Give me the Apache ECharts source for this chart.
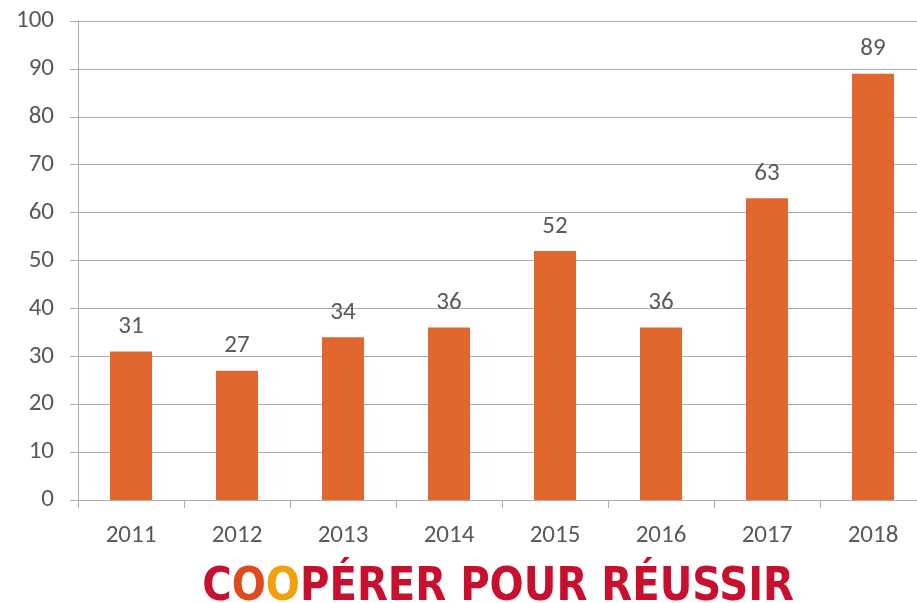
<!DOCTYPE html>
<html><head><meta charset="utf-8">
<script src="https://cdn.jsdelivr.net/npm/echarts@6/dist/echarts.min.js"></script>
<style>html,body{margin:0;padding:0;background:#fff}#c{width:917px;height:603px}</style>
</head><body><div id="c"></div>
<script>
const years = ['2011','2012','2013','2014','2015','2016','2017','2018'];
const values = [31, 27, 34, 36, 52, 36, 63, 89];
const yTicks = {min: 0, max: 100, interval: 10};
const logoParts = ['C', 'O', 'O', 'PÉRER POUR RÉUSSIR'];

const chart = echarts.init(document.getElementById('c'));
const font = 'Carlito, "Open Sans", "Liberation Sans", sans-serif';
const logoFont = '"Liberation Sans Narrow", "DejaVu Sans Condensed", sans-serif';
chart.setOption({
  animation: false,
  grid: {left: 78, right: -9, top: 21, bottom: 103, containLabel: false, outerBoundsMode: 'none'},
  xAxis: {
    type: 'category', data: years,
    axisLine: {lineStyle: {color: '#ababab', width: 1}},
    axisTick: {show: true, length: 8, lineStyle: {color: '#ababab'}},
    axisLabel: {color: '#595959', fontSize: 25, fontFamily: font, margin: 23}
  },
  yAxis: {
    type: 'value', min: yTicks.min, max: yTicks.max, interval: yTicks.interval,
    axisLine: {show: true, lineStyle: {color: '#ababab', width: 1}},
    axisTick: {show: true, length: 8, lineStyle: {color: '#ababab'}},
    splitLine: {lineStyle: {color: '#ababab', width: 1}},
    axisLabel: {color: '#595959', fontSize: 25, fontFamily: font, margin: 24}
  },
  series: [{
    type: 'bar', data: values, barWidth: 42,
    itemStyle: {color: '#E2672F'},
    label: {show: true, position: 'top', distance: 12, color: '#595959', fontSize: 25, fontFamily: font}
  }],
  graphic: [{
    type: 'text', x: 192, y: 564, originX: 205, scaleX: 0.95,
    style: {
      rich: {
        r: {fill: '#C8102E', fontSize: 47, fontWeight: 'bold', fontFamily: logoFont},
        o1: {fill: '#E04A1E', fontSize: 47, fontWeight: 'bold', fontFamily: logoFont},
        o2: {fill: '#F2A00C', fontSize: 47, fontWeight: 'bold', fontFamily: logoFont}
      },
      text: '{r|' + logoParts[0] + '}{o1|' + logoParts[1] + '}{o2|' + logoParts[2] + '}{r|' + logoParts[3] + '}'
    }
  }]
});
</script></body></html>
